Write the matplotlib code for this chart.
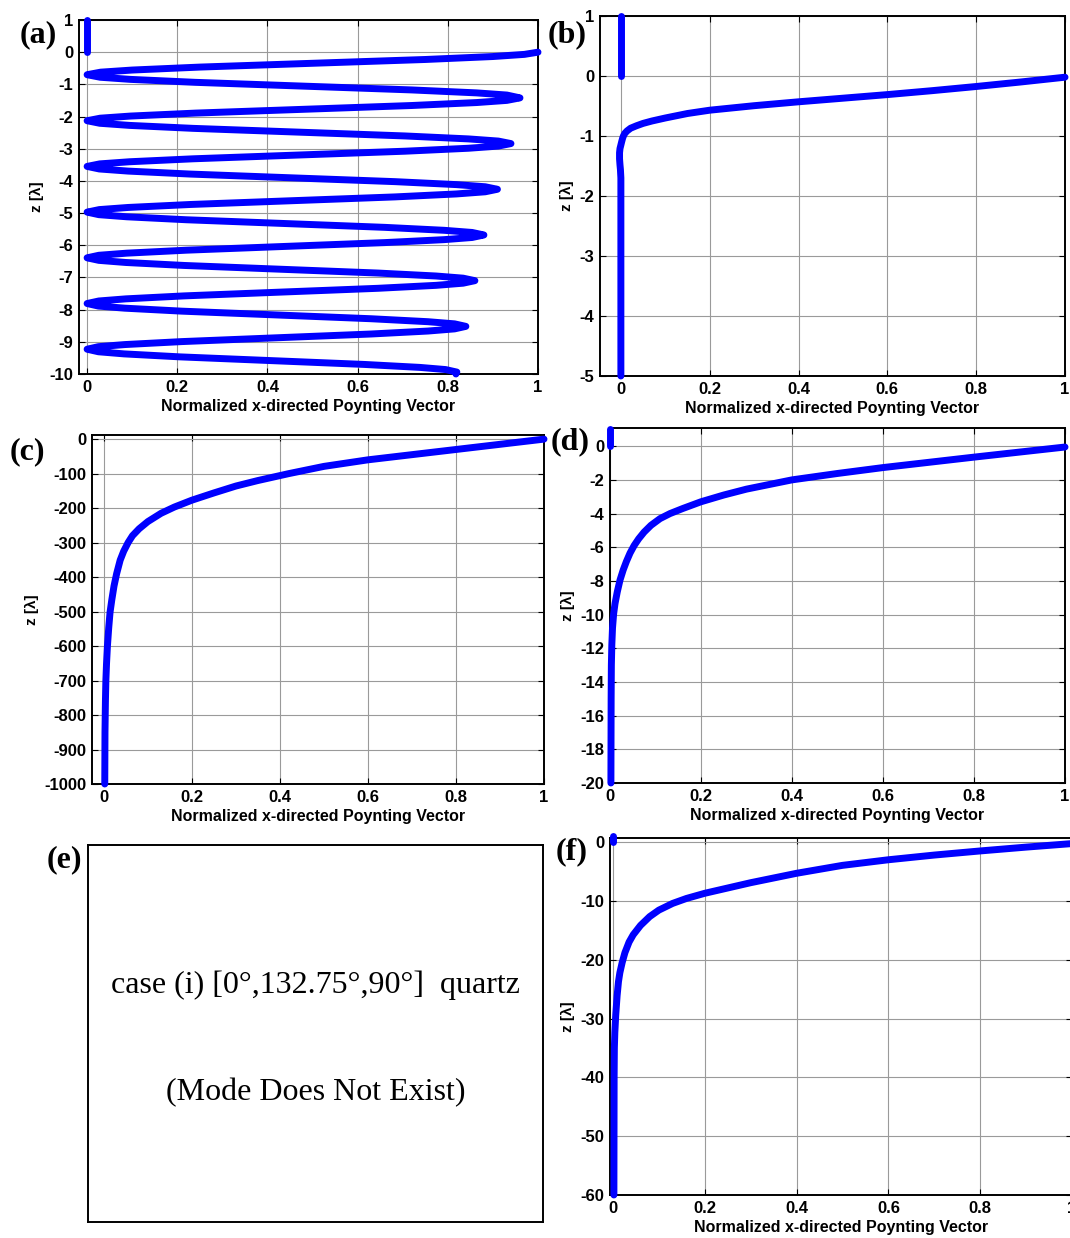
import matplotlib
matplotlib.use("Agg")
import matplotlib.pyplot as plt
import numpy as np

# data (x = normalized Sx, z in wavelengths)
top_x = [0.0, 0.0]
top_z = [0.0, 1.0]

a_x = [
	1.0, 0.97, 0.90, 0.75, 0.50, 0.25, 0.10, 0.03, 0.0,
	0.029, 0.096, 0.24, 0.48, 0.72, 0.864, 0.931, 0.96,
	0.931, 0.864, 0.72, 0.48, 0.24, 0.096, 0.029, 0.0,
	0.028, 0.094, 0.235, 0.47, 0.705, 0.846, 0.912, 0.94,
	0.912, 0.846, 0.705, 0.47, 0.235, 0.094, 0.028, 0.0,
	0.027, 0.091, 0.228, 0.455, 0.683, 0.819, 0.883, 0.91,
	0.883, 0.819, 0.683, 0.455, 0.228, 0.091, 0.027, 0.0,
	0.026, 0.088, 0.22, 0.44, 0.66, 0.792, 0.854, 0.88,
	0.854, 0.792, 0.66, 0.44, 0.22, 0.088, 0.026, 0.0,
	0.026, 0.086, 0.215, 0.43, 0.645, 0.774, 0.834, 0.86,
	0.834, 0.774, 0.645, 0.43, 0.215, 0.086, 0.026, 0.0,
	0.025, 0.084, 0.21, 0.42, 0.63, 0.756, 0.815, 0.84,
	0.815, 0.756, 0.63, 0.42, 0.21, 0.084, 0.025, 0.0,
	0.025, 0.082, 0.205, 0.41, 0.615, 0.738, 0.795, 0.82, 0.818,
]
a_z = [
	0.0, -0.068, -0.135, -0.227, -0.345, -0.463, -0.555, -0.621, -0.70,
	-0.779, -0.845, -0.937, -1.055, -1.173, -1.265, -1.332, -1.42,
	-1.498, -1.565, -1.657, -1.775, -1.893, -1.985, -2.051, -2.13,
	-2.209, -2.275, -2.367, -2.485, -2.603, -2.695, -2.762, -2.84,
	-2.918, -2.985, -3.077, -3.195, -3.313, -3.405, -3.471, -3.55,
	-3.629, -3.695, -3.787, -3.905, -4.023, -4.115, -4.182, -4.26,
	-4.338, -4.405, -4.497, -4.615, -4.733, -4.825, -4.891, -4.97,
	-5.049, -5.115, -5.207, -5.325, -5.443, -5.535, -5.602, -5.68,
	-5.758, -5.825, -5.917, -6.035, -6.153, -6.245, -6.311, -6.39,
	-6.469, -6.535, -6.627, -6.745, -6.863, -6.955, -7.022, -7.10,
	-7.178, -7.245, -7.337, -7.455, -7.573, -7.665, -7.731, -7.81,
	-7.889, -7.955, -8.047, -8.165, -8.283, -8.375, -8.442, -8.52,
	-8.598, -8.665, -8.757, -8.875, -8.993, -9.085, -9.151, -9.23,
	-9.309, -9.375, -9.467, -9.585, -9.703, -9.795, -9.862, -9.94, -10.0,
]

b_x = [1.0, 0.95, 0.9, 0.8, 0.7, 0.6, 0.5, 0.4, 0.3, 0.2, 0.15, 0.1, 0.07, 0.05, 0.035, 0.022,
	   0.014, 0.009, 0.006, 0.004, 0.002, 0.0, -0.002, -0.003, -0.003, -0.002, -0.001, 0.0, 0.0]
b_z = [-0.02, -0.06, -0.1, -0.175, -0.245, -0.31, -0.37, -0.43, -0.495, -0.57, -0.625, -0.70, -0.75, -0.79, -0.83, -0.87,
	   -0.915, -0.955, -0.995, -1.035, -1.09, -1.15, -1.21, -1.28, -1.38, -1.48, -1.56, -1.7, -5.0]

c_x = [1.0, 0.9, 0.8, 0.7, 0.6, 0.5, 0.42, 0.35, 0.3, 0.25, 0.2, 0.16, 0.13, 0.1, 0.08, 0.065, 0.055,
	   0.045, 0.037, 0.029, 0.023, 0.018, 0.014, 0.011, 0.008, 0.006, 0.0045, 0.0035, 0.0025, 0.002]
c_z = [0, -15, -30, -45, -60, -79, -100, -120, -136, -156, -177, -197, -215, -239, -260, -280, -300,
	   -325, -351, -390, -426, -466, -502, -547, -601, -651, -700, -760, -850, -1000]

d_x = [1.0, 0.9, 0.8, 0.7, 0.6, 0.5, 0.4, 0.3, 0.25, 0.2, 0.16, 0.132, 0.11, 0.09, 0.075, 0.063,
	   0.053, 0.044, 0.036, 0.029, 0.022, 0.016, 0.011, 0.008, 0.0055, 0.004, 0.003, 0.0025, 0.002]
d_z = [-0.05, -0.35, -0.65, -0.96, -1.27, -1.62, -2.0, -2.55, -2.9, -3.3, -3.7, -4.0, -4.3, -4.7, -5.1, -5.5,
	   -5.9, -6.35, -6.85, -7.35, -7.95, -8.65, -9.35, -9.95, -10.8, -11.8, -13.0, -15.0, -20.0]

f_x = [1.0, 0.9, 0.8, 0.7, 0.6, 0.5, 0.4, 0.3, 0.2, 0.16, 0.13, 0.1, 0.08, 0.06, 0.044, 0.035,
	   0.026, 0.02, 0.015, 0.012, 0.009, 0.006, 0.004, 0.003, 0.0025, 0.002]
f_z = [-0.25, -0.85, -1.5, -2.2, -3.0, -3.95, -5.3, -6.9, -8.7, -9.58, -10.42, -11.56, -12.66, -14.16, -15.76, -17.0,
	   -18.8, -20.48, -22.2, -23.7, -26.1, -29.4, -32.4, -35.0, -40.0, -60.0]

xlabel = "Normalized x-directed Poynting Vector"
ylabel = "z [λ]"
e_line1 = "case (i) [0°,132.75°,90°]  quartz"
e_line2 = "(Mode Does Not Exist)"

plt.rcParams['font.family'] = ['Liberation Sans', 'DejaVu Sans']
plt.rcParams['font.weight'] = 'bold'
plt.rcParams['axes.unicode_minus'] = False

W, H = 1070, 1238
SERIF = ['Liberation Serif', 'DejaVu Serif']
fig = plt.figure(figsize=(W / 100, H / 100), dpi=100)

def box(l, t, r, b):
	return [l / W, 1 - b / H, (r - l) / W, (b - t) / H]

def panel(rect, xs, zs, xlim, ylim, yticks, letter, lpos, lw=5):
	ax = fig.add_axes(box(*rect))
	ax.plot(top_x, top_z, color='#0000ff', lw=lw, solid_capstyle='round', clip_on=False, zorder=3)
	ax.plot(xs, zs, color='#0000ff', lw=lw, solid_capstyle='round', solid_joinstyle='round', clip_on=False, zorder=3)
	ax.set_xlim(xlim)
	ax.set_ylim(ylim)
	ax.set_xticks(np.arange(0, 1.01, 0.2))
	ax.set_yticks(yticks)
	ax.xaxis.set_major_formatter(lambda v, p: f'{v:g}')
	ax.yaxis.set_major_formatter(lambda v, p: f'{v:g}')
	ax.tick_params(direction='in', top=True, right=True, length=4, width=0.8, labelsize=12, pad=4)
	ax.grid(True, color='#9a9a9a', lw=0.8)
	for s in ax.spines.values():
		s.set_linewidth(1.4)
	ax.set_xlabel(xlabel, fontsize=11.5, fontweight='bold', labelpad=3)
	ax.set_ylabel(ylabel, fontsize=11, fontweight='bold', labelpad=4)
	fig.text(lpos[0] / W, 1 - lpos[1] / H, letter, family=SERIF,
			 fontsize=23, fontweight='bold', ha='center', va='center')
	return ax

panel((79, 20, 538, 374), a_x, a_z, (-0.018, 1), (-10, 1), range(-10, 2), '(a)', (38, 35))
panel((600, 16, 1065, 376), b_x, b_z, (-0.047, 1), (-5, 1), range(-5, 2), '(b)', (567, 35))
panel((92, 435, 544, 784), c_x, c_z, (-0.027, 1), (-1000, 12), range(-1000, 1, 100), '(c)', (27, 452))
panel((610, 428, 1065, 783), d_x, d_z, (0, 1), (-20, 1.08), range(-20, 1, 2), '(d)', (570, 442))
panel((610, 838, 1072, 1195), f_x, f_z, (-0.0065, 1), (-60, 0.7), range(-60, 1, 10), '(f)', (572, 852))

# panel (e): text only
ax = fig.add_axes(box(88, 845, 543, 1222))
ax.set_xticks([])
ax.set_yticks([])
for s in ax.spines.values():
	s.set_linewidth(1.4)
ax.text(0.5, (1222 - 985) / 377, e_line1, family=SERIF, fontweight='normal',
		fontsize=23, ha='center', va='center', transform=ax.transAxes)
ax.text(0.5, (1222 - 1093) / 377, e_line2, family=SERIF, fontweight='normal',
		fontsize=23, ha='center', va='center', transform=ax.transAxes)
fig.text(64 / W, 1 - 860 / H, '(e)', family=SERIF,
		 fontsize=23, fontweight='bold', ha='center', va='center')

fig.savefig('out.png', dpi=100)
